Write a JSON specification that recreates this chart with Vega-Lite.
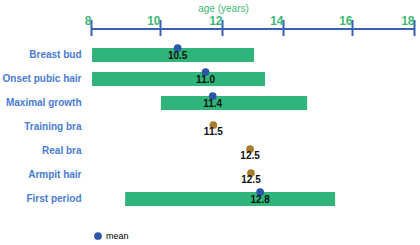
{
  "$schema": "https://vega.github.io/schema/vega-lite/v6.json",
  "width": 323,
  "height": 168,
  "autosize": "none",
  "padding": {"left": 91, "top": 43, "right": 6, "bottom": 34},
  "config": {"view": {"stroke": null}, "font": "Liberation Sans"},
  "data": {"values": [
    {"item": "Breast bud", "start": 8.03, "end": 13.05, "mean": 10.57, "label": "10.5", "kind": "mean"},
    {"item": "Onset pubic hair", "start": 8.03, "end": 13.41, "mean": 11.47, "label": "11.0", "kind": "mean"},
    {"item": "Maximal growth", "start": 10.03, "end": 14.7, "mean": 11.7, "label": "11.4", "kind": "mean"},
    {"item": "Training bra", "start": null, "end": null, "mean": 11.72, "label": "11.5", "kind": "other"},
    {"item": "Real bra", "start": null, "end": null, "mean": 12.92, "label": "12.5", "kind": "other"},
    {"item": "Armpit hair", "start": null, "end": null, "mean": 12.95, "label": "12.5", "kind": "other"},
    {"item": "First period", "start": 8.99, "end": 15.51, "mean": 13.25, "label": "12.8", "kind": "mean"}
  ]},
  "encoding": {
    "y": {
      "field": "item", "type": "nominal",
      "sort": ["Breast bud", "Onset pubic hair", "Maximal growth", "Training bra", "Real bra", "Armpit hair", "First period"],
      "scale": {"domain": ["Breast bud", "Onset pubic hair", "Maximal growth", "Training bra", "Real bra", "Armpit hair", "First period"], "paddingInner": 0, "paddingOuter": 0},
      "axis": {"title": null, "domain": false, "ticks": false, "labelPadding": 10,
               "labelFontSize": 10, "labelFontWeight": "bold", "labelColor": "#4a7bd3", "labelLimit": 0}
    }
  },
  "resolve": {"scale": {"x": "independent"}, "axis": {"x": "independent"}},
  "layer": [
    {
      "transform": [{"filter": "datum.start != null"}],
      "mark": {"type": "bar", "height": 14, "color": "#2fb47a"},
      "encoding": {
        "x": {"field": "start", "type": "quantitative",
              "scale": {"domain": [8, 10, 12, 14, 16, 18], "range": [0, 69, 131, 192, 261, 323], "nice": false, "zero": false},
              "axis": {"orient": "top", "values": [8, 10, 12, 14, 16, 18], "offset": 7.5, "domain": false,
                       "tickColor": "#3a5fb3", "tickWidth": 2, "tickSize": 16,
                       "labelColor": "#3db878", "labelFontWeight": "bold", "labelFontSize": 12,
                       "labelAlign": "right", "labelDx": -2, "labelPadding": -8, "labelFlush": false,
                       "title": "age (years)", "titleColor": "#3db878", "titleFontSize": 10, "titleFontWeight": "normal",
                       "titleX": 132, "titlePadding": 1, "grid": false}},
        "x2": {"field": "end"}
      }
    },
    {
      "transform": [{"filter": "datum.start != null"}],
      "mark": {"type": "point", "filled": true, "opacity": 1, "size": 60, "yOffset": -7},
      "encoding": {
        "x": {"field": "mean", "type": "quantitative",
              "scale": {"domain": [8, 10, 12, 14, 16, 18], "range": [0, 69, 131, 192, 261, 323], "nice": false, "zero": false},
              "axis": {"orient": "top", "offset": 14.5, "domain": true, "domainColor": "#3a5fb3", "domainWidth": 2,
                       "ticks": false, "labels": false, "title": null, "grid": false}},
        "color": {"field": "kind", "type": "nominal",
                  "scale": {"domain": ["mean", "other"], "range": ["#2c57a9", "#a97c2f"]},
                  "legend": {"values": ["mean"], "title": null, "orient": "none", "legendX": 2, "legendY": 188,
                             "padding": 0, "labelFontSize": 9, "labelColor": "#000", "symbolSize": 60, "labelOffset": 3}}
      }
    },
    {
      "transform": [{"filter": "datum.start == null"}],
      "mark": {"type": "point", "filled": true, "opacity": 1, "size": 60, "yOffset": -2},
      "encoding": {
        "x": {"field": "mean", "type": "quantitative",
              "scale": {"domain": [8, 10, 12, 14, 16, 18], "range": [0, 69, 131, 192, 261, 323], "nice": false, "zero": false},
              "axis": null},
        "color": {"field": "kind", "type": "nominal"}
      }
    },
    {
      "transform": [{"filter": "datum.start != null"}],
      "mark": {"type": "text", "fontWeight": "bold", "fontSize": 10, "color": "#111", "yOffset": 1},
      "encoding": {
        "x": {"field": "mean", "type": "quantitative",
              "scale": {"domain": [8, 10, 12, 14, 16, 18], "range": [0, 69, 131, 192, 261, 323], "nice": false, "zero": false},
              "axis": null},
        "text": {"field": "label"}
      }
    },
    {
      "transform": [{"filter": "datum.start == null"}],
      "mark": {"type": "text", "fontWeight": "bold", "fontSize": 10, "color": "#111", "yOffset": 5},
      "encoding": {
        "x": {"field": "mean", "type": "quantitative",
              "scale": {"domain": [8, 10, 12, 14, 16, 18], "range": [0, 69, 131, 192, 261, 323], "nice": false, "zero": false},
              "axis": null},
        "text": {"field": "label"}
      }
    }
  ]
}
